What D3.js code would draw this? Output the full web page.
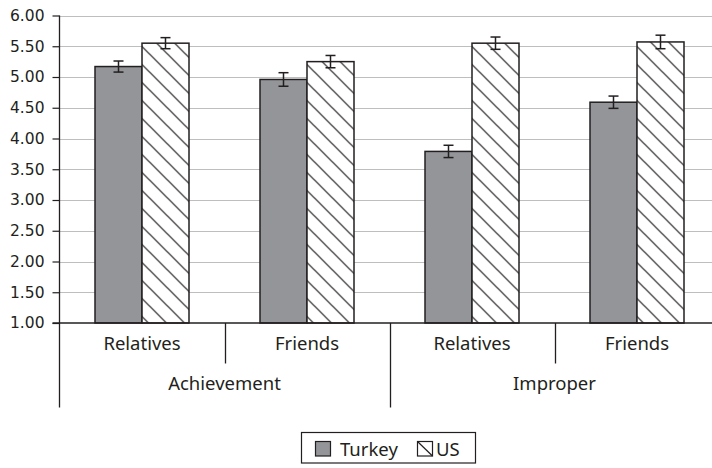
<!DOCTYPE html>
<html>
<head>
<meta charset="utf-8">
<script src="https://cdn.jsdelivr.net/npm/d3@7"></script>
<style>
  html, body { margin: 0; padding: 0; background: #fff; }
  svg { display: block; }
</style>
</head>
<body>
<div id="chart"></div>
<script>
// Mean ratings by condition, with standard-error bars
const groups = ["Achievement", "Improper"];
const targets = ["Relatives", "Friends"];
const series = ["Turkey", "US"];
const turkeyValues = [5.17, 4.96, 3.79, 4.59];
const usValues = [5.55, 5.25, 5.55, 5.57];
const turkeyErrors = [0.09, 0.11, 0.10, 0.10];
const usErrors = [0.09, 0.10, 0.10, 0.11];
const yTicks = [1.0, 1.5, 2.0, 2.5, 3.0, 3.5, 4.0, 4.5, 5.0, 5.5, 6.0];

const width = 712, height = 468;
const ink = "#231f20";
const grey = "#939598";
const gridColor = "#bcbec0";

// one cell per (group, target)
const cells = [];
groups.forEach((g, gi) => targets.forEach((t, ti) => {
  const i = gi * targets.length + ti;
  cells.push({
    key: g + "|" + t, group: g, target: t,
    values: [
      { s: "Turkey", v: turkeyValues[i], e: turkeyErrors[i] },
      { s: "US", v: usValues[i], e: usErrors[i] }
    ]
  });
}));

const left = 59.5, cellW = 165;
const x0 = d3.scaleBand()
  .domain(cells.map(d => d.key))
  .range([left, left + cellW * cells.length])
  .paddingInner(0).paddingOuter(0);

const pairW = 94;
const x1 = d3.scaleBand()
  .domain(series)
  .range([(cellW - pairW) / 2, (cellW + pairW) / 2])
  .padding(0);

const y = d3.scaleLinear().domain([1, 6]).range([323, 15.5]);

const svg = d3.select("#chart").append("svg")
  .attr("width", width).attr("height", height);

const defs = svg.append("defs");
const hatch = defs.append("pattern")
  .attr("id", "hatch")
  .attr("patternUnits", "userSpaceOnUse")
  .attr("width", 18).attr("height", 18);
hatch.append("rect").attr("width", 18).attr("height", 18).attr("fill", "#fff");
hatch.append("path")
  .attr("d", "M-4.5,-4.5 L22.5,22.5 M-4.5,13.5 L4.5,22.5 M13.5,-4.5 L22.5,4.5")
  .attr("stroke", ink).attr("stroke-width", 1.2);

const fills = { Turkey: grey, US: "url(#hatch)" };

// horizontal gridlines
svg.append("g").selectAll("line")
  .data(yTicks.filter(t => t > 1))
  .join("line")
  .attr("x1", left).attr("x2", width)
  .attr("y1", d => Math.round(y(d)) + 0.5).attr("y2", d => Math.round(y(d)) + 0.5)
  .attr("stroke", gridColor).attr("stroke-width", 1.2);

// y axis
const yAxis = d3.axisLeft(y)
  .tickValues(yTicks)
  .tickFormat(d3.format(".2f"))
  .tickSize(7)
  .tickPadding(8);
const gy = svg.append("g")
  .attr("transform", `translate(${left},0)`)
  .call(yAxis);
gy.select(".domain").remove();
gy.selectAll(".tick line").attr("stroke", ink).attr("stroke-width", 1.2);
gy.selectAll(".tick text")
  .attr("fill", ink)
  .style("font-family", "'DejaVu Sans', sans-serif")
  .style("font-size", "15.5px");

// vertical axis line extends below the plot into the label area
svg.append("line")
  .attr("x1", left).attr("x2", left)
  .attr("y1", y(6)).attr("y2", 407.5)
  .attr("stroke", ink).attr("stroke-width", 1.3);

// bars
const cellG = svg.append("g").selectAll("g")
  .data(cells)
  .join("g")
  .attr("transform", d => `translate(${x0(d.key)},0)`);

cellG.selectAll("rect")
  .data(d => d.values)
  .join("rect")
  .attr("x", d => x1(d.s))
  .attr("y", d => y(d.v))
  .attr("width", x1.bandwidth())
  .attr("height", d => y(1) - y(d.v))
  .attr("fill", d => fills[d.s])
  .attr("stroke", ink)
  .attr("stroke-width", 1.5);

// error bars
const capW = 10;
const eb = cellG.selectAll("g.err")
  .data(d => d.values)
  .join("g").attr("class", "err")
  .attr("stroke", ink).attr("stroke-width", 1.5);
eb.append("line")
  .attr("x1", d => x1(d.s) + x1.bandwidth() / 2)
  .attr("x2", d => x1(d.s) + x1.bandwidth() / 2)
  .attr("y1", d => y(d.v + d.e)).attr("y2", d => y(d.v - d.e));
eb.append("line")
  .attr("x1", d => x1(d.s) + x1.bandwidth() / 2 - capW / 2)
  .attr("x2", d => x1(d.s) + x1.bandwidth() / 2 + capW / 2)
  .attr("y1", d => y(d.v + d.e)).attr("y2", d => y(d.v + d.e));
eb.append("line")
  .attr("x1", d => x1(d.s) + x1.bandwidth() / 2 - capW / 2)
  .attr("x2", d => x1(d.s) + x1.bandwidth() / 2 + capW / 2)
  .attr("y1", d => y(d.v - d.e)).attr("y2", d => y(d.v - d.e));

// baseline
svg.append("line")
  .attr("x1", left - 7).attr("x2", width)
  .attr("y1", y(1)).attr("y2", y(1))
  .attr("stroke", ink).attr("stroke-width", 1.3);

// category dividers: short between targets, long between groups
cells.forEach((c, i) => {
  const xr = x0(c.key) + x0.bandwidth();
  const isGroupEnd = (i % targets.length) === targets.length - 1;
  svg.append("line")
    .attr("x1", Math.round(xr) + 0.5).attr("x2", Math.round(xr) + 0.5)
    .attr("y1", y(1)).attr("y2", isGroupEnd ? 407.5 : 363.5)
    .attr("stroke", ink).attr("stroke-width", 1.3);
});

const labelFont = "'Noto Sans', 'Open Sans', sans-serif";

// target labels
svg.append("g").selectAll("text")
  .data(cells)
  .join("text")
  .attr("x", d => x0(d.key) + x0.bandwidth() / 2)
  .attr("y", 349.5)
  .attr("text-anchor", "middle")
  .attr("fill", ink)
  .style("font-family", labelFont)
  .style("font-size", "18.5px")
  .text(d => d.target);

// group labels
svg.append("g").selectAll("text")
  .data(groups)
  .join("text")
  .attr("x", g => {
    const ks = cells.filter(c => c.group === g).map(c => c.key);
    return (x0(ks[0]) + x0(ks[ks.length - 1]) + x0.bandwidth()) / 2;
  })
  .attr("y", 389.5)
  .attr("text-anchor", "middle")
  .attr("fill", ink)
  .style("font-family", labelFont)
  .style("font-size", "18.5px")
  .text(g => g);

// legend
const lg = svg.append("g");
lg.append("rect")
  .attr("x", 301.5).attr("y", 432.5)
  .attr("width", 174).attr("height", 30.5)
  .attr("fill", "#fff").attr("stroke", ink).attr("stroke-width", 1.2);
const legendItems = [
  { s: series[0], sx: 315.5, tx: 340 },
  { s: series[1], sx: 417.5, tx: 436 }
];
const sw = 15, sh = 14.5;
legendItems.forEach(it => {
  lg.append("rect")
    .attr("x", it.sx).attr("y", 441.5)
    .attr("width", sw).attr("height", sh)
    .attr("fill", it.s === "US" ? "#fff" : fills[it.s])
    .attr("stroke", ink).attr("stroke-width", 1.2);
  if (it.s === "US") {
    // a single hatch stroke is enough at swatch size
    lg.append("line")
      .attr("x1", it.sx).attr("y1", 441.5)
      .attr("x2", it.sx + sw).attr("y2", 441.5 + sh)
      .attr("stroke", ink).attr("stroke-width", 1.2);
  }
  lg.append("text")
    .attr("x", it.tx).attr("y", 456)
    .attr("fill", ink)
    .style("font-family", labelFont)
    .style("font-size", "18.5px")
    .text(it.s);
});
</script>
</body>
</html>
